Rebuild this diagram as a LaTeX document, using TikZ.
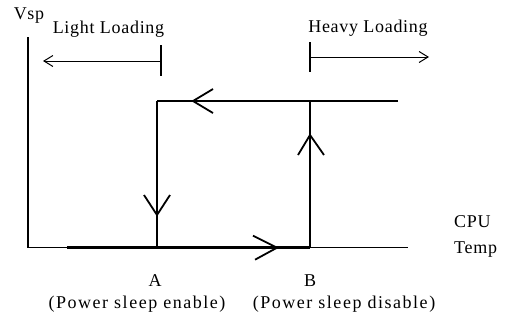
\documentclass[tikz,border=0pt]{standalone}
\usepackage{fontspec}
\setmainfont{Liberation Serif}[LetterSpace=4]
\newfontfamily\widefont{Liberation Serif}[LetterSpace=8.5]
\usetikzlibrary{arrows.meta,calc}
\begin{document}
\begin{tikzpicture}[x=1pt,y=-1pt,
  lbl/.style={inner sep=0pt,font=\fontsize{18}{20}\selectfont},
  widelbl/.style={inner sep=0pt,font=\widefont\fontsize{18}{20}\selectfont},
  thinline/.style={line width=1.3pt},
  thickline/.style={line width=2.8pt},
  vhead/.style={line width=1.8pt},
  loadarrow/.style={line width=1pt,-{Straight Barb[length=9pt,width=11pt]}},
  tick/.style={line width=1.3pt}]
\useasboundingbox (0,0) rectangle (505,322);
% key points
\coordinate (origin) at (28,247.7);
\coordinate (ytop) at (28,37);
\coordinate (xend) at (408,247.7);
\coordinate (Abot) at (157,247.7);
\coordinate (Atop) at (157,101);
\coordinate (Bbot) at (310,247.7);
\coordinate (Btop) at (310,101);
\coordinate (topend) at (398,101);
\coordinate (botstart) at (67,247.7);
% axes
\draw[thinline] (ytop) -- (origin) -- (xend);
% hysteresis loop
\draw[thickline] (botstart) -- (Abot) -- (Bbot);
\draw[thickline] (topend) -- (Btop) -- (Atop);
\draw[thickline] (Atop) -- (Abot);
\draw[thickline] (Bbot) -- (Btop);
% open arrowheads on loop
\coordinate (h1) at (193,101);
\draw[vhead] ($(h1)+(20,-12)$) -- (h1) -- ($(h1)+(20,12)$);
\coordinate (h2) at (157,215);
\draw[vhead] ($(h2)+(-13,-20)$) -- (h2) -- ($(h2)+(13,-20)$);
\coordinate (h3) at (310,135);
\draw[vhead] ($(h3)+(-12,20)$) -- (h3) -- ($(h3)+(14,20)$);
\coordinate (h4) at (277,247.7);
\draw[vhead] ($(h4)+(-24,-12)$) -- (h4) -- ($(h4)+(-22,12)$);
% loading arrows
\coordinate (lt1) at (161,45);
\coordinate (lt2) at (161,76);
\coordinate (lstart) at (161,61);
\coordinate (lend) at (43,61);
\draw[tick] (lt1) -- (lt2);
\draw[loadarrow] (lstart) -- (lend);
\coordinate (ht1) at (310,42);
\coordinate (ht2) at (310,72);
\coordinate (hstart) at (310,57);
\coordinate (hend) at (429,57);
\draw[tick] (ht1) -- (ht2);
\draw[loadarrow] (hstart) -- (hend);
% labels
\node[lbl,anchor=base] (vsp) at (29,19) {Vsp};
\node[lbl,anchor=base] (light) at (108.5,33) {Light Loading};
\node[lbl,anchor=base] (heavy) at (368,32.5) {Heavy Loading};
\node[lbl,anchor=base west] (cpu) at (454,227) {CPU};
\node[lbl,anchor=base west] (temp) at (454,253.3) {Temp};
\node[lbl,anchor=base] (A) at (155,286) {A};
\node[lbl,anchor=base] (B) at (310,286) {B};
\node[widelbl,anchor=base] (pse) at (137,308) {(Power sleep enable)};
\node[widelbl,anchor=base] (psd) at (344,308) {(Power sleep disable)};
\end{tikzpicture}
\end{document}
